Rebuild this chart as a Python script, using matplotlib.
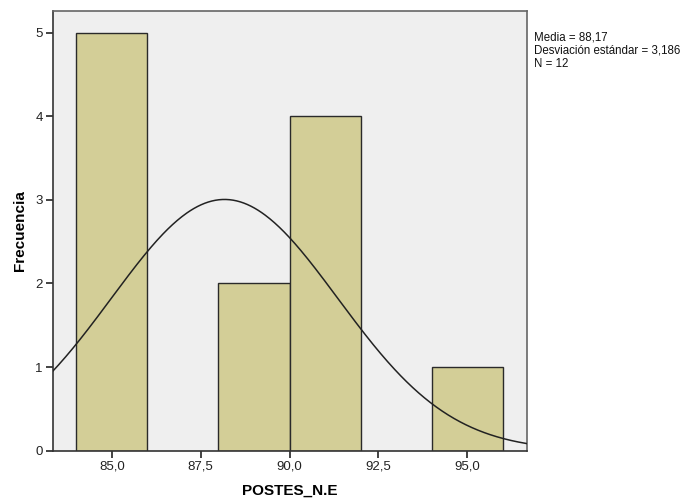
import numpy as np
import matplotlib
matplotlib.use("Agg")
import matplotlib.pyplot as plt

plt.rcParams['font.family'] = ['Liberation Sans', 'DejaVu Sans']

bin_left = [84, 88, 90, 94]
bin_width = 2
counts = [5, 2, 4, 1]
mean = 88.17
sd = 3.186
n = 12
xticks = [85.0, 87.5, 90.0, 92.5, 95.0]
yticks = [0, 1, 2, 3, 4, 5]

fig = plt.figure(figsize=(6.92, 4.98), dpi=100)
ax = fig.add_axes([0.0759, 0.095, 0.761 - 0.0759, 0.978 - 0.095])
ax.set_facecolor('#efefef')

ax.bar(bin_left, counts, width=bin_width, align='edge', color='#d3ce97',
       edgecolor='#2a2a2a', linewidth=1.0, zorder=2)

xlim = (83.33, 96.67)
xs = np.linspace(xlim[0], xlim[1], 400)
ys = n * bin_width / (sd * np.sqrt(2 * np.pi)) * np.exp(-0.5 * ((xs - mean) / sd) ** 2)
ax.plot(xs, ys, color='#222222', linewidth=1.1, zorder=3)

ax.set_xlim(*xlim)
ax.set_ylim(0, 5.26)
ax.set_xticks(xticks)
ax.set_xticklabels([f"{v:.1f}".replace('.', ',') for v in xticks])
ax.set_yticks(yticks)
ax.tick_params(axis='both', direction='out', length=5, width=1.2, labelsize=9.5,
               colors='#222222', labelcolor='#222222')
ax.tick_params(axis='x', pad=2)
ax.tick_params(axis='y', pad=2)

for side in ['left', 'bottom']:
    ax.spines[side].set_color('#333333')
    ax.spines[side].set_linewidth(1.2)
for side in ['top', 'right']:
    ax.spines[side].set_color('#666666')
    ax.spines[side].set_linewidth(1.2)

ax.set_xlabel('POSTES_N.E', fontsize=11, fontweight='bold', labelpad=8)
ax.set_ylabel('Frecuencia', fontsize=11, fontweight='bold', labelpad=6)

fig.text(534 / 692, 1 - 32 / 498,
         'Media = 88,17\nDesviación estándar = 3,186\nN = 12',
         fontsize=8.3, va='top', ha='left', linespacing=1.1, color='#111111')

fig.savefig('out.png', dpi=100)
